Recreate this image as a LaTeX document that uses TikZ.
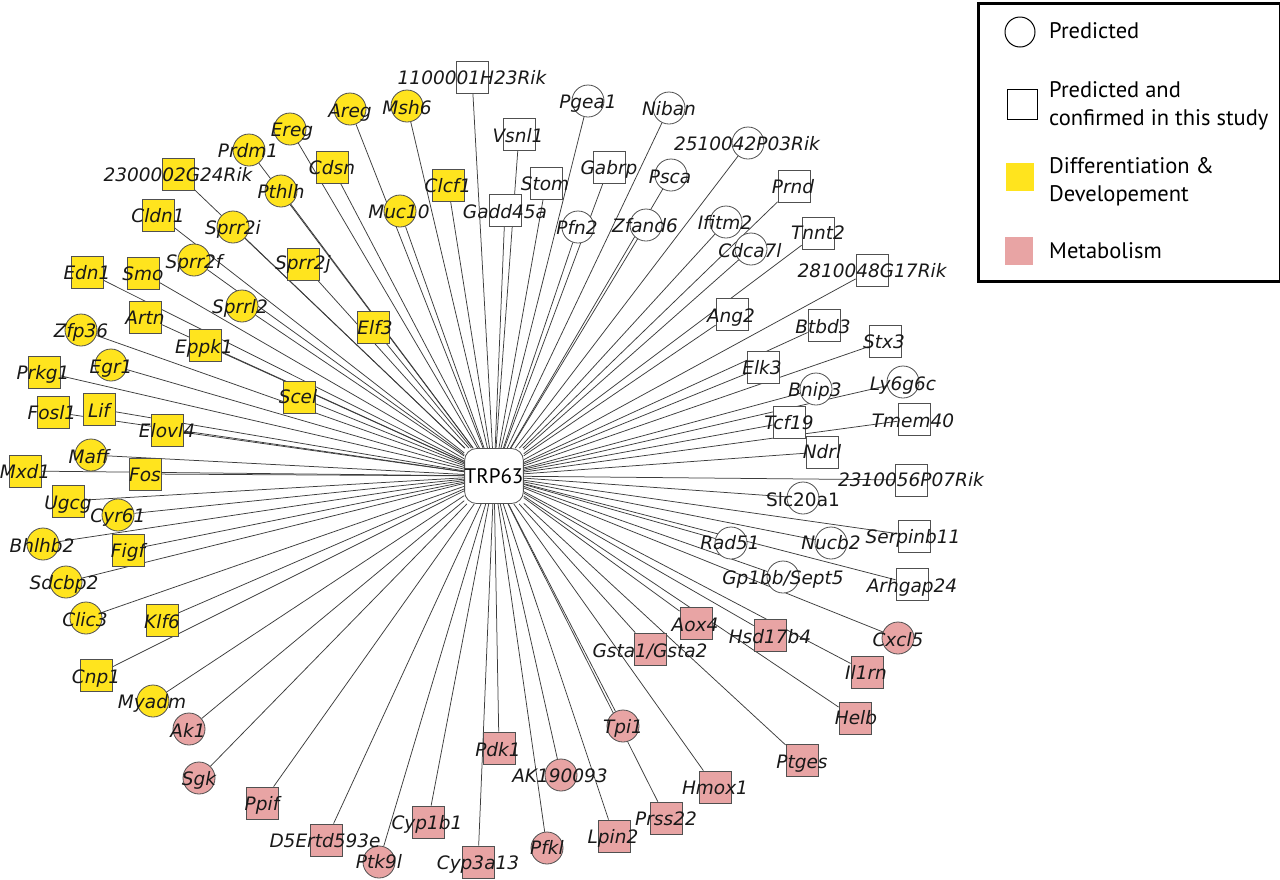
\documentclass[tikz,border=0pt]{standalone}
\usepackage{fontspec}
\setmainfont{DejaVu Sans}
\newfontfamily\legfont{PT Sans}
\pgfdeclarelayer{edgelayer}
\pgfdeclarelayer{labellayer}
\pgfsetlayers{edgelayer,main,labellayer}
\definecolor{yel}{RGB}{255,228,30}
\definecolor{pnk}{RGB}{232,164,164}
\definecolor{ndraw}{RGB}{80,80,80}
\definecolor{edgec}{RGB}{60,60,60}
\definecolor{txt}{RGB}{25,25,25}
\tikzset{
  shp/.style={draw=ndraw, line width=0.8pt, inner sep=0pt, minimum size=32pt},
  yc/.style={shp, circle, fill=yel},
  ys/.style={shp, rectangle, fill=yel},
  pc/.style={shp, circle, fill=pnk},
  ps/.style={shp, rectangle, fill=pnk},
  wc/.style={shp, circle, fill=white},
  ws/.style={shp, rectangle, fill=white},
  lnk/.style={draw=edgec, line width=0.75pt},
  glab/.style={inner sep=0pt, text=txt, font=\fontsize{18.5}{18.5}\selectfont\itshape, text height=13.5pt, text depth=0pt},
  legtxt/.style={anchor=west, inner sep=0pt, text=black, font=\legfont\fontsize{22.5}{22.5}\selectfont, text height=15.75pt, text depth=0pt},
}
\newcommand\gene[7]{%
  \node[#2] (#1) at (#3,#4) {};
  \begin{pgfonlayer}{edgelayer}\draw[lnk] (hub) -- (#1);\end{pgfonlayer}
  \begin{pgfonlayer}{labellayer}\node[glab] (#1-t) at (#5,#6) {#7};\end{pgfonlayer}}
\begin{document}
\begin{tikzpicture}[x=1pt,y=-1pt]
\useasboundingbox (0,0) rectangle (1280,879);
\begin{pgfonlayer}{edgelayer}\fill[white] (0,0) rectangle (1280,879);\end{pgfonlayer}
\node[draw=ndraw, line width=0.8pt, fill=white, rounded corners=12pt, minimum size=55pt, inner sep=0pt, font=\legfont\fontsize{21}{21}\selectfont] (hub) at (494,476) {TRP63};
% differentiation & development
\gene{areg}{yc}{350}{109}{350}{111}{Areg}
\gene{msh6}{yc}{407}{106}{407}{108}{Msh6}
\gene{ereg}{yc}{290}{129}{292}{130}{Ereg}
\gene{prdm1}{yc}{249}{150}{248}{151}{Prdm1}
\gene{cdsn}{ys}{332}{167}{332}{168}{Cdsn}
\gene{rikA}{ys}{178}{174}{178}{175}{2300002G24Rik}
\gene{pthlh}{yc}{281}{191}{281}{192}{Pthlh}
\gene{clcf1}{ys}{448}{185}{448}{186}{Clcf1}
\gene{muc10}{yc}{400}{211}{399}{212}{Muc10}
\gene{cldn1}{ys}{158}{215}{158}{216}{Cldn1}
\gene{sprr2i}{yc}{233}{227}{233}{228}{Sprr2i}
\gene{sprr2f}{yc}{194}{260}{194}{262}{Sprr2f}
\gene{sprr2j}{ys}{303}{264}{303}{263}{Sprr2j}
\gene{edn1}{ys}{87}{272}{87}{273}{Edn1}
\gene{smo}{ys}{143}{273}{143}{274}{Smo}
\gene{elf3}{ys}{373}{327}{375}{328}{Elf3}
\gene{sprrl2}{yc}{242}{306}{240}{307}{Sprrl2}
\gene{artn}{ys}{145}{317}{145}{318}{Artn}
\gene{zfp36}{yc}{81}{330}{81}{331}{Zfp36}
\gene{eppk1}{ys}{205}{345}{204}{347}{Eppk1}
\gene{egr1}{yc}{111}{365}{111}{367}{Egr1}
\gene{prkg1}{ys}{44}{372}{43}{373}{Prkg1}
\gene{scel}{ys}{299}{397}{298}{397}{Scel}
\gene{fosl1}{ys}{53}{412}{52}{413}{Fosl1}
\gene{lif}{ys}{99}{409}{99}{411}{Lif}
\gene{elovl4}{ys}{167}{430}{167}{431}{Elovl4}
\gene{maff}{yc}{91}{455}{89}{457}{Maff}
\gene{mxd1}{ys}{25}{471}{25}{472}{Mxd1}
\gene{fos}{ys}{145}{474}{145}{475}{Fos}
\gene{ugcg}{ys}{68}{501}{68}{503}{Ugcg}
\gene{cyr61}{yc}{118}{515}{118}{516}{Cyr61}
\gene{bhlhb2}{yc}{43}{544}{42}{546}{Bhlhb2}
\gene{figf}{ys}{128}{550}{128}{551}{Figf}
\gene{sdcbp2}{yc}{66}{582}{64}{583}{Sdcbp2}
\gene{clic3}{yc}{86}{618}{85}{620}{Clic3}
\gene{klf6}{ys}{162}{620}{162}{622}{Klf6}
\gene{cnp1}{ys}{96}{675}{96}{677}{Cnp1}
\gene{myadm}{yc}{153}{701}{152}{702}{Myadm}
% metabolism
\gene{ak1}{pc}{189}{729}{188}{731}{Ak1}
\gene{sgk}{pc}{199}{778}{199}{779}{Sgk}
\gene{ppif}{ps}{262}{803}{262}{804}{Ppif}
\gene{dfive}{ps}{326}{840}{325}{841}{D5Ertd593e}
\gene{ptk9l}{pc}{379}{862}{379}{862}{Ptk9l}
\gene{cyp1b1}{ps}{428}{822}{427}{823}{Cyp1b1}
\gene{pdk1}{ps}{499}{748}{498}{750}{Pdk1}
\gene{cyp3a13}{ps}{478}{862}{478}{863}{Cyp3a13}
\gene{akone}{pc}{561}{775}{560}{776}{AK190093}
\gene{pfkl}{pc}{547}{848}{547}{848}{Pfkl}
\gene{lpin2}{ps}{614}{836}{613}{837}{Lpin2}
\gene{tpi1}{pc}{623}{726}{623}{727}{Tpi1}
\gene{prss22}{ps}{666}{818}{666}{819}{Prss22}
\gene{hmox1}{ps}{715}{787}{715}{788}{Hmox1}
\gene{ptges}{ps}{802}{760}{802}{762}{Ptges}
\gene{gsta}{ps}{650}{649}{650}{651}{Gsta1/Gsta2}
\gene{aox4}{ps}{696}{623}{695}{625}{Aox4}
\gene{hsd}{ps}{770}{635}{770}{637}{Hsd17b4}
\gene{il1rn}{ps}{867}{672}{866}{673}{Il1rn}
\gene{helb}{ps}{855}{718}{856}{718}{Helb}
\gene{cxcl5}{pc}{898}{638}{898}{640}{Cxcl5}
% predicted / confirmed
\gene{rikB}{ws}{472}{77}{472}{78}{1100001H23Rik}
\gene{vsnl1}{ws}{519}{134}{518}{136}{Vsnl1}
\gene{stom}{ws}{546}{183}{545}{184}{Stom}
\gene{gadd}{ws}{505}{210}{505}{212}{Gadd45a}
\gene{pgea1}{wc}{588}{101}{588}{102}{Pgea1}
\gene{niban}{wc}{669}{108}{669}{109}{Niban}
\gene{gabrp}{ws}{609}{167}{609}{168}{Gabrp}
\gene{pfn2}{wc}{578}{227}{577}{228}{Pfn2}
\gene{psca}{wc}{671}{175}{670}{177}{Psca}
\gene{zfand6}{wc}{646}{225}{645}{226}{Zfand6}
\gene{rikC}{wc}{748}{143}{747}{144}{2510042P03Rik}
\gene{prnd}{ws}{794}{186}{793}{187}{Prnd}
\gene{ifitm2}{wc}{726}{222}{725}{223}{Ifitm2}
\gene{cdca7l}{wc}{751}{249}{750}{251}{Cdca7l}
\gene{tnnt2}{ws}{818}{233}{818}{233}{Tnnt2}
\gene{rikD}{ws}{872}{270}{872}{271}{2810048G17Rik}
\gene{ang2}{ws}{732}{314}{731}{316}{Ang2}
\gene{btbd3}{ws}{824}{325}{823}{327}{Btbd3}
\gene{stx3}{ws}{885}{341}{884}{342}{Stx3}
\gene{elk3}{ws}{763}{367}{762}{368}{Elk3}
\gene{bnip3}{wc}{816}{389}{815}{390}{Bnip3}
\gene{ly6}{wc}{903}{382}{903}{384}{Ly6g6c}
\gene{tcf19}{ws}{789}{422}{789}{423}{Tcf19}
\gene{tmem40}{ws}{914}{419}{913}{421}{Tmem40}
\gene{ndrl}{ws}{822}{452}{822}{452}{Ndrl}
\gene{rikE}{ws}{911}{480}{911}{480}{2310056P07Rik}
\gene{slc}{wc}{803}{498}{803}{500}{\upshape Slc20a1}
\gene{nucb2}{wc}{831}{543}{831}{543}{Nucb2}
\gene{serp}{ws}{914}{536}{913}{537}{Serpinb11}
\gene{rad51}{wc}{731}{543}{730}{543}{Rad51}
\gene{gp1bb}{wc}{783}{577}{783}{578}{Gp1bb/Sept5}
\gene{arhgap}{ws}{912}{584}{912}{586}{Arhgap24}
% legend
\node[draw=black, line width=3pt, minimum width=302pt, minimum height=278pt, inner sep=0pt, anchor=north west] (legbox) at (976.5,1.5) {};
\node[circle, draw=black, line width=1pt, fill=white, minimum size=30pt, inner sep=0pt] (legc) at (1020,32) {};
\node[rectangle, draw=black, line width=1pt, fill=white, minimum size=30pt, inner sep=0pt] (legs) at (1022,104) {};
\node[rectangle, fill=yel, minimum size=28pt, inner sep=0pt] (legy) at (1020,177) {};
\node[rectangle, fill=pnk, minimum size=28pt, inner sep=0pt] (legp) at (1019,251) {};
\node[legtxt] (legt1) at (1049,31) {Predicted};
\node[legtxt] (legt2) at (1049,90) {Predicted and};
\node[legtxt] (legt3) at (1049,118) {confirmed in this study};
\node[legtxt] (legt4) at (1049,166) {Differentiation \&};
\node[legtxt] (legt5) at (1049,194) {Developement};
\node[legtxt] (legt6) at (1049,251) {Metabolism};
\end{tikzpicture}
\end{document}
